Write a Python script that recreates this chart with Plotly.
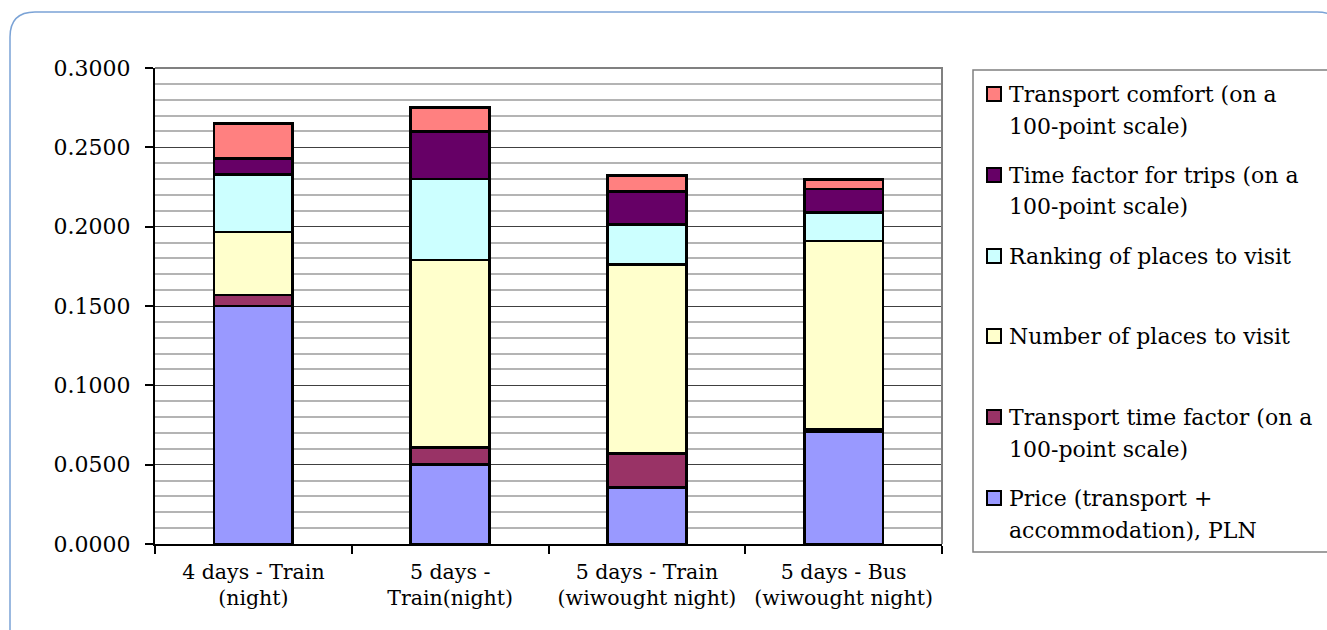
import plotly.graph_objects as go

# ---------------- data ----------------
categories = ["4 days - Train<br>(night)", "5 days -<br>Train(night)",
              "5 days - Train<br>(wiwought night)", "5 days - Bus<br>(wiwought night)"]

series_names = ["Price (transport + accommodation), PLN",
                "Transport time factor (on a 100-point scale)",
                "Number of places to visit",
                "Ranking of places to visit",
                "Time factor for trips (on a 100-point scale)",
                "Transport comfort (on a 100-point scale)"]

price = [0.150, 0.050, 0.0357, 0.0705]
transport_time = [0.007, 0.011, 0.0215, 0.0015]
num_places = [0.0396, 0.118, 0.119, 0.119]
ranking = [0.0364, 0.051, 0.025, 0.018]
time_trips = [0.010, 0.030, 0.021, 0.0147]
comfort = [0.022, 0.015, 0.010, 0.006]

series_values = [price, transport_time, num_places, ranking, time_trips, comfort]
colors = ["#9999FF", "#993366", "#FFFFCC", "#CCFFFF", "#660066", "#FF8080"]

# legend lines (top to bottom)
legend_lines = [
    ["Transport comfort (on a", "100-point scale)"],
    ["Time factor for trips (on a", "100-point scale)"],
    ["Ranking of places to visit"],
    ["Number of places to visit"],
    ["Transport time factor (on a", "100-point scale)"],
    ["Price (transport +", "accommodation), PLN"],
]
legend_colors = ["#FF8080", "#660066", "#CCFFFF", "#FFFFCC", "#993366", "#9999FF"]

# ---------------- layout geometry (pixels) ----------------
W, H = 1327, 630
L, R, T, B = 155, 942, 68, 544
FONT = "DejaVu Serif"


def px(x):
    return (x - L) / (R - L)


def py(y):
    return (B - y) / (B - T)


fig = go.Figure()
for name, vals, col in zip(series_names, series_values, colors):
    fig.add_trace(go.Bar(
        x=categories, y=vals, name=name,
        marker=dict(color=col, line=dict(color="black", width=2.6)),
        width=0.40, showlegend=False,
    ))

fig.update_layout(
    barmode="stack",
    width=W, height=H,
    margin=dict(l=L, r=W - R, t=T, b=H - B, pad=0),
    paper_bgcolor="white", plot_bgcolor="white",
    font=dict(family=FONT, color="black", size=21),
)

fig.update_yaxes(
    range=[0, 0.3], dtick=0.05, tickformat=".4f",
    ticks="outside", ticklen=8, tickwidth=1.5, tickcolor="black",
    showline=True, linecolor="black", linewidth=2,
    showgrid=True, gridcolor="#404040", gridwidth=1,
    minor=dict(dtick=0.01, showgrid=True, gridcolor="#B4B4B4", gridwidth=1.6),
    tickfont=dict(family=FONT, size=22),
    ticklabelstandoff=10,
    zeroline=False,
)
fig.update_xaxes(
    type="category", tickson="boundaries",
    ticks="outside", ticklen=8, tickwidth=1.5, tickcolor="black",
    showline=True, linecolor="black", linewidth=2,
    tickfont=dict(family=FONT, size=20.5),
    ticklabelstandoff=8,
    range=[-0.5, 3.5],
)

shapes = []
# top & right border of plot area
shapes.append(dict(type="path", xref="paper", yref="paper",
                   path="M 0 1 L 1 1 L 1 0",
                   line=dict(color="#808080", width=2)))
# legend box
shapes.append(dict(type="rect", xref="paper", yref="paper",
                   x0=px(973), x1=px(1345), y0=py(552), y1=py(70),
                   line=dict(color="#808080", width=1.5), fillcolor="white",
                   layer="below"))
# outer rounded border
r = 25
x0b, y0b, x1b, y1b = 10, 12, 1342, 645
path = (f"M {px(x0b)} {py(y1b)} L {px(x0b)} {py(y0b + r)} "
        f"Q {px(x0b)} {py(y0b)} {px(x0b + r)} {py(y0b)} "
        f"L {px(x1b - r)} {py(y0b)} "
        f"Q {px(x1b)} {py(y0b)} {px(x1b)} {py(y0b + r)} "
        f"L {px(x1b)} {py(y1b)}")
shapes.append(dict(type="path", xref="paper", yref="paper", path=path,
                   line=dict(color="#7BA3D6", width=1.5)))

annotations = []
first_line_y = [94, 175, 256, 336, 417, 498]
line_gap = 32
for lines, col, yc in zip(legend_lines, legend_colors, first_line_y):
    shapes.append(dict(type="rect", xref="paper", yref="paper",
                       x0=px(987), x1=px(1001), y0=py(yc + 7), y1=py(yc - 7),
                       fillcolor=col, line=dict(color="black", width=2)))
    for i, ln in enumerate(lines):
        annotations.append(dict(
            x=px(1007), y=py(yc + i * line_gap), xref="paper", yref="paper",
            text=ln, showarrow=False, xanchor="left", yanchor="middle",
            font=dict(family=FONT, size=22, color="black")))

fig.update_layout(shapes=shapes, annotations=annotations)

fig.write_html("out.html")
